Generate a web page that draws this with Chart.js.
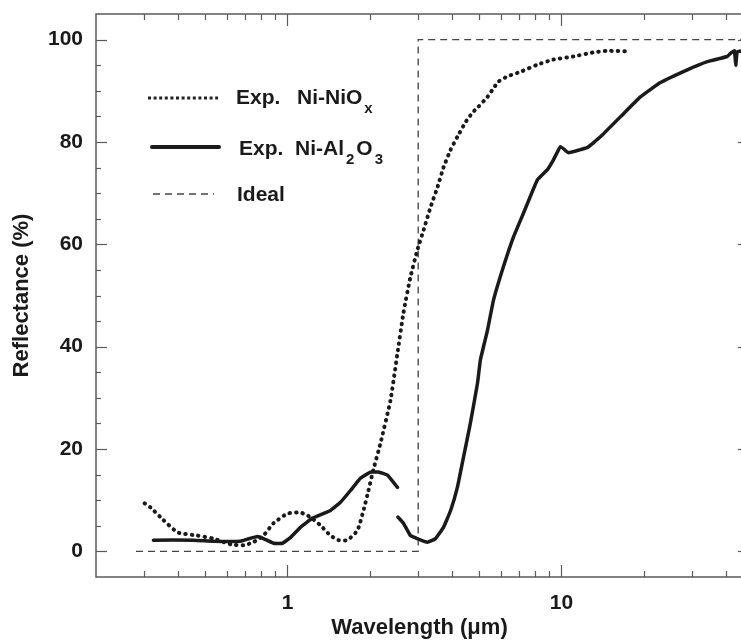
<!DOCTYPE html>
<html>
<head>
<meta charset="utf-8">
<script src="https://cdn.jsdelivr.net/npm/chart.js@4.4.1/dist/chart.umd.min.js"></script>
<style>
  html, body { margin: 0; padding: 0; background: #fff; overflow: hidden; width: 741px; height: 643px; }
  #c { display: block; }
</style>
</head>
<body>
<canvas id="c" width="744" height="643" style="width:744px;height:643px"></canvas>
<script>
// ---- data ----
const niNiOxWl = [0.301,0.316,0.353,0.397,0.469,0.537,0.619,0.691,0.751,0.817,0.889,1.0,1.115,1.213,1.319,1.435,1.535,1.655,1.801,1.894,1.975,2.043,2.184,2.376,2.52,2.65,2.81,2.98,3.14,3.33,3.53,3.71,3.94,4.17,4.46,4.73,4.98,5.37,5.60,5.89,6.35,7.08,8.17,9.35,11.06,13.08,14.72,17.85];
const niNiOxR  = [9.4,8.6,6.1,3.7,3.1,2.5,1.4,1.2,1.8,3.1,5.5,7.4,7.6,6.7,5.1,3.1,2.2,2.2,4.1,8.0,11.9,15.3,21.1,29.5,38.7,46.6,53.6,58.9,62.8,67.3,71.2,75.0,78.5,81.0,83.8,85.7,86.9,88.8,90.2,91.8,92.8,93.7,95.1,96.1,96.7,97.5,97.8,97.7];

const niAlWl = [0.324,0.454,0.537,0.674,0.714,0.777,0.817,0.889,0.959,1.025,1.115,1.234,1.435,1.561,1.698,1.846,2.01,2.148,2.317,2.52,
                2.525,
                2.53,2.65,2.81,2.98,3.24,3.47,3.71,3.94,4.17,4.39,4.65,4.94,5.06,5.37,5.65,6.14,6.68,7.27,8.17,8.89,9.35,9.92,10.6,11.73,12.44,13.87,16.41,19.42,22.97,28.8,34.1,40.3,41.4,42.8,43.3,43.8,46];
const niAlR  = [2.2,2.2,2.0,2.0,2.4,2.9,2.5,1.6,1.6,2.7,4.7,6.5,8.0,9.6,11.9,14.3,15.5,15.5,14.9,12.5,
                null,
                6.7,5.5,3.1,2.5,1.8,2.5,4.7,8.0,12.5,18.4,25.0,32.9,37.4,43.2,49.1,55.6,61.4,66.1,72.6,74.6,76.5,79.1,77.9,78.5,78.9,81.0,84.9,88.8,91.6,94.1,95.7,96.7,97.3,97.8,95.0,97.6,97.8];

const idealWl = [0.28, 3, 3, 46];
const idealR  = [0, 0, 100, 100];

const xMajorLabels = [1, 10];
const yLabels = [0, 20, 40, 60, 80, 100];

// legend entries: [text, isSubscript, optional fixed x]
const legendItems = [
  { parts: [['Exp.', 0, 236], ['Ni-NiO', 0, 297], ['x', 1]], style: 'dot' },
  { parts: [['Exp.', 0, 239], ['Ni-Al', 0, 295], ['2', 1], ['O', 0], ['3', 1]], style: 'solid' },
  { parts: [['Ideal', 0, 237]], style: 'dash' }
];

const zip = (xs, ys) => xs.map((v, i) => ({ x: v, y: ys[i] }));
const FONT = "'Liberation Sans', Arial, sans-serif";
const INK = '#1a1a1a';

const frameTicks = {
  id: 'frameTicks',
  afterDatasetsDraw(chart) {
    const { ctx, chartArea: a, scales: { x, y } } = chart;
    ctx.save();
    ctx.strokeStyle = '#5a5a5a';
    ctx.lineWidth = 1.5;
    ctx.setLineDash([]);
    ctx.strokeRect(a.left, a.top, a.right - a.left, a.bottom - a.top);
    ctx.lineWidth = 1.2;
    const seg = (x1, y1, x2, y2) => { ctx.beginPath(); ctx.moveTo(x1, y1); ctx.lineTo(x2, y2); ctx.stroke(); };
    x.ticks.forEach(t => {
      const v = t.value;
      const e = Math.floor(Math.log10(v) + 1e-9);
      const m = v / Math.pow(10, e);
      if (Math.abs(m - Math.round(m)) > 1e-6) return;
      const px = Math.round(x.getPixelForValue(v)) + 0.5;
      if (px <= a.left + 2 || px >= a.right - 2) return;
      const len = Math.round(m) === 1 ? 12 : 6;
      seg(px, a.bottom, px, a.bottom - len);
      seg(px, a.top, px, a.top + len);
    });
    y.ticks.forEach(t => {
      const v = t.value;
      if (v < 0 || v > 100) return;
      const py = Math.round(y.getPixelForValue(v)) + 0.5;
      const major = v % 20 === 0;
      seg(a.left, py, a.left + (major ? 11 : 5), py);
      if (major) seg(a.right, py, a.right - 5, py);
    });
    ctx.restore();
  }
};

const legendPlugin = {
  id: 'customLegend',
  afterDraw(chart) {
    const ctx = chart.ctx;
    ctx.save();
    const rows = [
      { ly: 98, ty: 104, x1: 148, x2: 218 },
      { ly: 147, ty: 155, x1: 152, x2: 219 },
      { ly: 194, ty: 201, x1: 153, x2: 214 }
    ];
    legendItems.forEach((it, i) => {
      const r = rows[i];
      ctx.strokeStyle = INK;
      ctx.lineCap = 'butt';
      if (it.style === 'dot') { ctx.lineWidth = 3; ctx.setLineDash([3, 2.6]); ctx.strokeStyle = '#222'; }
      else if (it.style === 'solid') { ctx.lineWidth = 4; ctx.setLineDash([]); ctx.lineCap = 'round'; }
      else { ctx.lineWidth = 1.3; ctx.setLineDash([7, 5]); ctx.strokeStyle = '#444'; }
      ctx.beginPath(); ctx.moveTo(r.x1, r.ly); ctx.lineTo(r.x2, r.ly); ctx.stroke();
      ctx.setLineDash([]);
      ctx.fillStyle = INK;
      ctx.textBaseline = 'alphabetic';
      let cx = 0;
      it.parts.forEach(([txt, sub, fx]) => {
        if (fx !== undefined) cx = fx;
        ctx.font = sub ? `bold 15px ${FONT}` : `bold 21px ${FONT}`;
        ctx.fillText(txt, cx, sub ? r.ty + 9 : r.ty);
        cx += ctx.measureText(txt).width + 2;
      });
    });
    ctx.restore();
  }
};

const noPad = (s) => { s.paddingTop = 0; s.paddingBottom = 0; s.paddingLeft = 0; s.paddingRight = 0; };

new Chart(document.getElementById('c'), {
  type: 'line',
  data: {
    datasets: [
      {
        label: 'Exp. Ni-NiOx',
        data: zip(niNiOxWl, niNiOxR),
        borderColor: INK,
        borderWidth: 4,
        borderDash: [0.5, 6],
        borderCapStyle: 'round',
        pointRadius: 0,
        tension: 0.15,
        fill: false
      },
      {
        label: 'Exp. Ni-Al2O3',
        data: zip(niAlWl, niAlR),
        borderColor: INK,
        borderWidth: 3.5,
        borderJoinStyle: 'round',
        borderCapStyle: 'round',
        pointRadius: 0,
        tension: 0.1,
        spanGaps: false,
        fill: false
      },
      {
        label: 'Ideal',
        data: zip(idealWl, idealR),
        borderColor: '#444',
        borderWidth: 1.3,
        borderDash: [7, 5],
        pointRadius: 0,
        tension: 0,
        fill: false
      }
    ]
  },
  options: {
    responsive: false,
    animation: false,
    devicePixelRatio: 1,
    layout: { padding: { top: 14, right: 1, left: 0, bottom: 0 } },
    plugins: { legend: { display: false }, tooltip: { enabled: false } },
    scales: {
      x: {
        type: 'logarithmic',
        min: 0.2,
        max: 46,
        grid: { display: false, drawTicks: false },
        border: { display: false },
        ticks: {
          autoSkip: false,
          maxRotation: 0,
          padding: 14,
          color: INK,
          font: { family: FONT, size: 21, weight: 'bold' },
          callback: (v) => xMajorLabels.includes(Number(v)) ? String(Number(v)) : ''
        },
        title: {
          display: true,
          text: 'Wavelength (μm)',
          color: INK,
          font: { family: FONT, size: 22, weight: 'bold' },
          padding: { top: 0, bottom: 2 }
        },
        afterFit: (s) => { s.height = 66; noPad(s); }
      },
      y: {
        min: -5,
        max: 105,
        grid: { display: false, drawTicks: false },
        border: { display: false },
        ticks: {
          stepSize: 5,
          autoSkip: false,
          padding: 13,
          color: INK,
          font: { family: FONT, size: 21, weight: 'bold' },
          callback: (v) => yLabels.includes(v) ? String(v) : ''
        },
        title: {
          display: true,
          text: 'Reflectance (%)',
          color: INK,
          font: { family: FONT, size: 22, weight: 'bold' },
          padding: { top: 9, bottom: 0 }
        },
        afterFit: (s) => { s.width = 96; noPad(s); }
      }
    }
  },
  plugins: [frameTicks, legendPlugin]
});
</script>
</body>
</html>
